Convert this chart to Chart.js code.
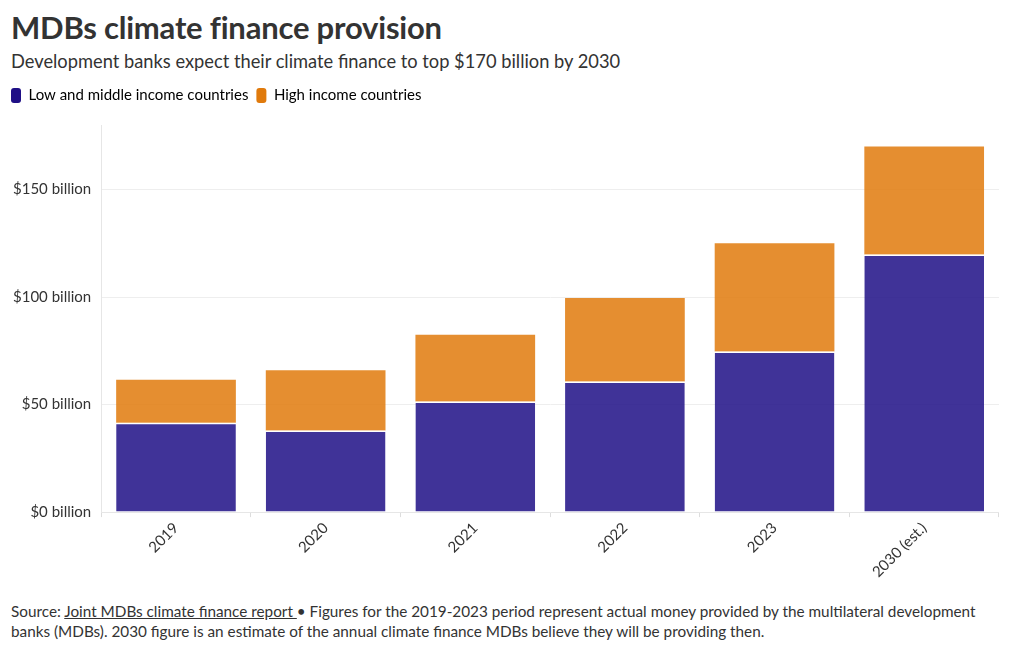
<!DOCTYPE html>
<html>
<head>
<meta charset="utf-8">
<script src="https://cdn.jsdelivr.net/npm/chart.js@4"></script>
<style>
  body { margin: 0; background: #fff; font-family: Lato, sans-serif; color: #333; width: 1020px; height: 650px; overflow: hidden; position: relative; }
  h1 { position: absolute; left: 11px; top: 8px; margin: 0; font-size: 31px; font-weight: bold; color: #333; letter-spacing: -0.2px; }
  .sub { position: absolute; left: 11px; top: 50px; font-size: 18.3px; color: #333; }
  .chartbox { position: absolute; left: 0; top: 80px; width: 999px; height: 503px; }
  .foot { position: absolute; left: 11px; top: 601px; width: 1005px; font-size: 15.3px; line-height: 20px; color: #333; }
  .foot a { color: #333; text-decoration: underline; }
</style>
</head>
<body>
<h1>MDBs climate finance provision</h1>
<div class="sub">Development banks expect their climate finance to top $170 billion by 2030</div>
<div class="chartbox"><canvas id="chart"></canvas></div>
<div class="foot">Source: <a href="#">Joint MDBs climate finance report </a>• Figures for the 2019-2023 period represent actual money provided by the multilateral development<br>banks (MDBs). 2030 figure is an estimate of the annual climate finance MDBs believe they will be providing then.</div>
<script>
const years = ['2019', '2020', '2021', '2022', '2023', '2030 (est.)'];
const lowMiddle = [41.5, 38, 51.4, 60.7, 74.7, 119.8];
const highIncome = [20, 28, 31.1, 38.9, 50.3, 50.2];
const yTicks = [0, 50, 100, 150];

const blue = '#1f0f86';
const orange = '#e07a0c';

const data = {
    labels: years,
    datasets: [{
        label: 'Low and middle income countries',
        data: lowMiddle,
        backgroundColor: 'rgba(31,15,134,0.85)',
        borderColor: '#ffffff',
        borderWidth: { top: 1.5, left: 0, right: 0, bottom: 0 },
        borderSkipped: false
    },
    {
        label: 'High income countries',
        data: highIncome,
        backgroundColor: 'rgba(224,122,12,0.85)',
        borderWidth: 0
    }
    ]
}

// push the plot a bit further down from the legend
const legendGap = {
    id: 'legendGap',
    beforeInit(chart) {
        const fit = chart.legend.fit;
        chart.legend.fit = function () {
            fit.bind(chart.legend)();
            this.height += 12;
        }
    }
}

const config = {
    type: 'bar',
    data: data,
    plugins: [legendGap],
    options: {
        responsive: true,
        maintainAspectRatio: false,
        animation: false,
        layout: { padding: { left: 3 } },
        datasets: { bar: { barPercentage: 0.8, categoryPercentage: 1 } },
        scales: {
            x: {
                stacked: true,
                grid: { drawOnChartArea: false, color: '#ddd', tickLength: 5 },
                border: { color: '#e6e6e6' },
                ticks: {
                    color: '#333',
                    font: { family: 'Lato', size: 15 },
                    maxRotation: 45,
                    minRotation: 45,
                    padding: 2
                }
            },
            y: {
                stacked: true,
                min: 0,
                max: 180,
                afterBuildTicks: function (axis) {
                    axis.ticks = yTicks.map(v => ({ value: v }));
                },
                grid: { color: '#eeeeee', drawTicks: false },
                border: { color: '#e6e6e6' },
                ticks: {
                    color: '#333',
                    padding: 10,
                    font: { family: 'Lato', size: 15 },
                    callback: function (value) {
                        return `$${value} billion`
                    }
                }
            }
        },
        plugins: {
            tooltip: { enabled: false },
            legend: {
                align: 'start',
                labels: {
                    boxWidth: 10,
                    boxHeight: 15,
                    useBorderRadius: true,
                    borderRadius: 3,
                    padding: 8,
                    color: '#333',
                    font: { family: 'Lato', size: 15 },
                    generateLabels: function (chart) {
                        return chart.data.datasets.map((ds, i) => ({
                            text: ds.label,
                            fillStyle: i === 0 ? blue : orange,
                            strokeStyle: 'rgba(0,0,0,0)',
                            lineWidth: 0,
                            borderRadius: 3,
                            datasetIndex: i
                        }))
                    }
                }
            }
        }
    }
}

const mdbChart = new Chart(
    document.getElementById('chart'),
    config
)
</script>
</body>
</html>
